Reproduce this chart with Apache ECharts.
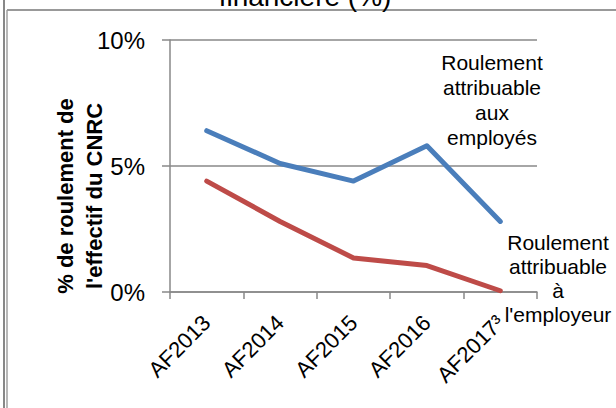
<!DOCTYPE html>
<html>
<head>
<meta charset="utf-8">
<script src="https://cdn.jsdelivr.net/npm/echarts@6/dist/echarts.min.js"></script>
<style>
  html, body { margin: 0; padding: 0; background: #fff; }
  #chart { width: 616px; height: 408px; }
</style>
</head>
<body>
<div id="chart"></div>
<script>
// fiscal years (x axis)
const years = ['AF2013', 'AF2014', 'AF2015', 'AF2016', 'AF2017³'];
// turnover attributable to employees (%)
const employes = [6.4, 5.1, 4.4, 5.8, 2.8];
// turnover attributable to the employer (%)
const employeur = [4.4, 2.8, 1.35, 1.05, 0.05];
const yTicks = [0, 5, 10];

const FONT = '"Liberation Sans", Arial, sans-serif';
const AXIS_GRAY = '#898989';

const chart = echarts.init(document.getElementById('chart'), null, { renderer: 'svg' });

const option = {
    backgroundColor: '#fff',
    animation: false,
    grid: { left: 170, right: 79, top: 40, bottom: 116 },
    xAxis: {
        type: 'category',
        data: years,
        boundaryGap: true,
        axisLine: { lineStyle: { color: AXIS_GRAY, width: 1.5 } },
        axisTick: { show: true, length: 7, lineStyle: { color: AXIS_GRAY, width: 1.5 } },
        axisLabel: { interval: 0, rotate: 45, margin: 27, color: '#000', fontSize: 22, fontFamily: FONT }
    },
    yAxis: {
        type: 'value',
        min: yTicks[0],
        max: yTicks[yTicks.length - 1],
        interval: 5,
        axisLine: { show: true, lineStyle: { color: AXIS_GRAY, width: 1.5 } },
        axisTick: { show: true, length: 8, lineStyle: { color: AXIS_GRAY, width: 1.5 } },
        splitLine: { show: true, lineStyle: { color: AXIS_GRAY, width: 1.5 } },
        axisLabel: { formatter: '{value}%', margin: 25, color: '#000', fontSize: 24, fontFamily: FONT }
    },
    series: [
        {
            name: 'Roulement attribuable aux employés',
            type: 'line',
            data: employes,
            symbol: 'none',
            lineStyle: { color: '#4A7EBB', width: 5, cap: 'round', join: 'round' }
        },
        {
            name: "Roulement attribuable à l'employeur",
            type: 'line',
            data: employeur,
            symbol: 'none',
            lineStyle: { color: '#BE4B48', width: 5, cap: 'round', join: 'round' }
        }
    ],
    graphic: [
        // frame lines of the cropped screenshot
        { type: 'line', shape: { x1: 4, y1: 0, x2: 4, y2: 408 }, style: { stroke: '#888', lineWidth: 2 } },
        { type: 'line', shape: { x1: 7, y1: 10, x2: 7, y2: 408 }, style: { stroke: '#a0a0a0', lineWidth: 1.5 } },
        { type: 'line', shape: { x1: 7, y1: 10, x2: 616, y2: 10 }, style: { stroke: '#999', lineWidth: 2 } },
        // cut-off title (the screenshot starts below it)
        {
            type: 'text', x: 305, y: -4,
            style: { text: 'financière (%)', fontSize: 28, fontFamily: FONT, fill: '#000', align: 'center', verticalAlign: 'middle' }
        },
        // y axis title
        {
            type: 'text', x: 80, y: 196, rotation: Math.PI / 2,
            style: {
                text: "% de roulement de\nl'effectif du CNRC",
                fontSize: 22, fontWeight: 'bold', fontFamily: FONT, lineHeight: 29,
                fill: '#000', align: 'center', verticalAlign: 'middle'
            }
        },
        // series labels
        {
            type: 'text', x: 492, y: 100,
            style: {
                text: 'Roulement\nattribuable\naux\nemployés',
                fontSize: 21, fontFamily: FONT, lineHeight: 25,
                fill: '#000', align: 'center', verticalAlign: 'middle'
            }
        },
        {
            type: 'text', x: 558, y: 278,
            style: {
                text: "Roulement\nattribuable\nà\nl'employeur",
                fontSize: 21, fontFamily: FONT, lineHeight: 24,
                fill: '#000', align: 'center', verticalAlign: 'middle'
            }
        }
    ]
};

chart.setOption(option);
</script>
</body>
</html>
